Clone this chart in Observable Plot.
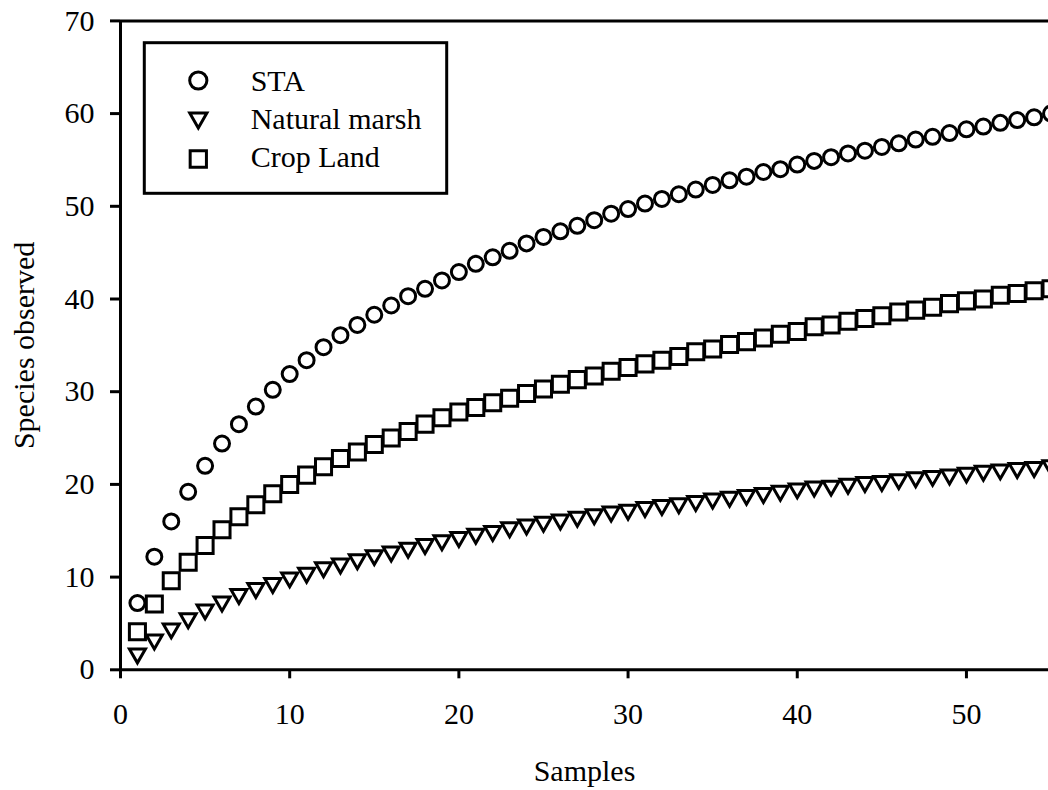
<!DOCTYPE html>
<html><head><meta charset="utf-8">
<script src="https://cdn.jsdelivr.net/npm/d3@7"></script>
<script src="https://cdn.jsdelivr.net/npm/@observablehq/plot@0.6"></script>
<style>
body{margin:0;background:#fff;}
#wrap{position:relative;width:1048px;height:790px;overflow:hidden;}
#legend{position:absolute;left:0;top:0;pointer-events:none;}
</style></head><body><div id="wrap"></div>
<script>
// ---- data ----
const samples = [1,2,3,4,5,6,7,8,9,10,11,12,13,14,15,16,17,18,19,20,21,22,23,24,25,26,27,28,29,30,31,32,33,34,35,36,37,38,39,40,41,42,43,44,45,46,47,48,49,50,51,52,53,54,55];
const sta = [7.2,12.2,16.0,19.2,22.0,24.4,26.5,28.4,30.2,31.9,33.4,34.8,36.1,37.2,38.3,39.3,40.3,41.1,42.0,42.9,43.8,44.5,45.2,46.0,46.7,47.3,47.9,48.5,49.2,49.7,50.3,50.8,51.3,51.8,52.3,52.8,53.2,53.7,54.0,54.5,54.9,55.3,55.7,56.0,56.4,56.8,57.2,57.5,57.9,58.3,58.6,59.0,59.3,59.6,60.0];
const marsh = [1.5,3.0,4.2,5.3,6.25,7.1,7.9,8.55,9.1,9.7,10.2,10.8,11.2,11.65,12.1,12.5,12.9,13.3,13.7,14.05,14.4,14.7,15.1,15.4,15.7,15.95,16.25,16.5,16.8,17.0,17.3,17.5,17.7,17.95,18.2,18.4,18.6,18.8,19.05,19.3,19.5,19.6,19.8,20.0,20.1,20.3,20.5,20.65,20.8,21.0,21.2,21.35,21.5,21.6,21.8];
const crop = [4.1,7.1,9.6,11.6,13.4,15.1,16.5,17.8,19.0,20.0,21.0,21.9,22.8,23.5,24.3,25.0,25.7,26.5,27.2,27.8,28.3,28.8,29.3,29.8,30.3,30.8,31.3,31.7,32.2,32.6,33.0,33.4,33.8,34.3,34.6,35.1,35.4,35.8,36.2,36.5,37.0,37.2,37.6,37.9,38.2,38.6,38.8,39.1,39.5,39.8,40.0,40.4,40.6,40.9,41.1];
const seriesNames = ["STA", "Natural marsh", "Crop Land"];
const xTicks = [0,10,20,30,40,50];
const yTicks = [0,10,20,30,40,50,60,70];
const xLabel = "Samples";
const yLabel = "Species observed";

// ---- symbols ----
const circleSym = {draw(ctx, size){const r=Math.sqrt(size/Math.PI); ctx.moveTo(r,0); ctx.arc(0,0,r,0,2*Math.PI); ctx.closePath();}};
const squareSym = {draw(ctx, size){const r=Math.sqrt(size/Math.PI); const h=r*1.07; ctx.moveTo(-h,-h); ctx.lineTo(h,-h); ctx.lineTo(h,h); ctx.lineTo(-h,h); ctx.closePath();}};
const triDownSym = {draw(ctx, size){const r=Math.sqrt(size/Math.PI); const w=r*1.07, hh=r*0.93; ctx.moveTo(-w,-hh); ctx.lineTo(w,-hh); ctx.lineTo(0,hh); ctx.closePath();}};
const symbols = [circleSym, triDownSym, squareSym];

const rows = (vals) => samples.map((s,i)=>({x:s, y:vals[i]}));
const FONT = "'Liberation Serif', 'Times New Roman', serif";
const SW = 3;
const MR = 7.5;

const chart = Plot.plot({
  width: 1048, height: 790,
  marginLeft: 120, marginRight: 0, marginTop: 20.4, marginBottom: 120.7,
  style: {fontFamily: FONT, fontSize: "30px", background: "white", color: "black"},
  x: {domain: [0, 54.85]},
  y: {domain: [0, 70]},
  marks: [
    Plot.ruleY([0], {stroke: "black", strokeWidth: SW}),
    Plot.ruleY([70], {stroke: "black", strokeWidth: SW}),
    Plot.ruleX([0], {stroke: "black", strokeWidth: SW}),
    Plot.axisX({ticks: xTicks, tickSize: 9, tickPadding: 24, strokeWidth: SW, fontSize: 30, label: null, stroke: "black", fill: "black"}),
    Plot.axisY({ticks: yTicks, tickSize: 10, tickPadding: 16, strokeWidth: SW, fontSize: 30, label: null, stroke: "black", fill: "black"}),
    Plot.dot(rows(marsh), {x: "x", y: "y", r: MR, symbol: triDownSym, stroke: "black", fill: "white", strokeWidth: SW}),
    Plot.dot(rows(crop), {x: "x", y: "y", r: MR, symbol: squareSym, stroke: "black", fill: "white", strokeWidth: SW}),
    Plot.dot(rows(sta), {x: "x", y: "y", r: MR, symbol: circleSym, stroke: "black", fill: "white", strokeWidth: SW}),
    Plot.text([yLabel], {text: d => d, frameAnchor: "left", textAnchor: "middle", lineAnchor: "middle", rotate: -90, dx: -96, fontSize: 30, fill: "black"}),
    Plot.text([xLabel], {text: d => d, frameAnchor: "bottom", textAnchor: "middle", lineAnchor: "middle", dy: 102, fontSize: 30, fill: "black"})
  ]
});
const wrap = document.getElementById("wrap");
wrap.appendChild(chart);

// ---- legend (inside plot area, top-left) ----
const lg = d3.create("svg").attr("id","legend").attr("width",1048).attr("height",790);
lg.append("rect").attr("x",144.3).attr("y",42.7).attr("width",302.4).attr("height",150.6)
  .attr("fill","white").attr("stroke","black").attr("stroke-width",SW);
const legR = [8.6, 8.0, 7.6];
const symY = [80.5, 120.5, 159];
const txtY = [90.5, 129, 167];
seriesNames.forEach((name,i)=>{
  lg.append("path").attr("transform",`translate(198.3,${symY[i]})`)
    .attr("d", d3.symbol(symbols[i], Math.PI*legR[i]*legR[i])())
    .attr("fill","white").attr("stroke","black").attr("stroke-width",SW);
  lg.append("text").attr("x",250.7).attr("y",txtY[i]).attr("font-family",FONT).attr("font-size",30)
    .attr("fill","black").text(name);
});
wrap.appendChild(lg.node());
</script></body></html>
